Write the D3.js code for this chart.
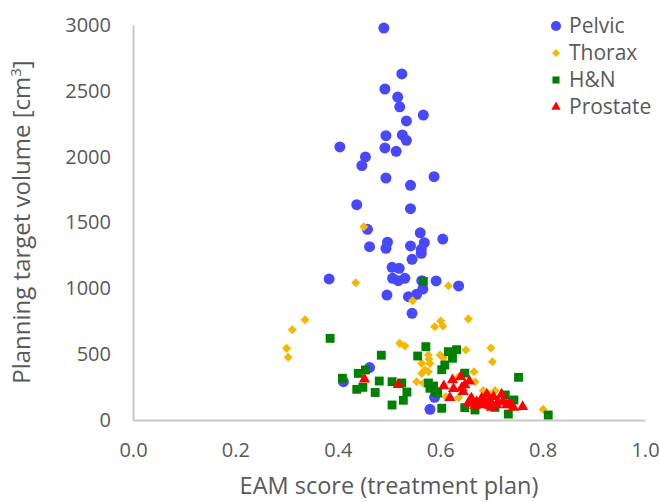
<!DOCTYPE html>
<html><head><meta charset="utf-8">
<script src="https://cdn.jsdelivr.net/npm/d3@7"></script>
<style>body{margin:0;background:#fff;} text{font-family:"Open Sans",sans-serif;}</style>
</head><body>
<svg id="c" width="660" height="502"></svg>
<script>
const pelvic = [[0.490,2977],[0.525,2628],[0.492,2514],[0.517,2453],[0.521,2379],[0.567,2316],[0.534,2271],[0.494,2159],[0.526,2165],[0.534,2124],[0.404,2074],[0.492,2066],[0.514,2041],[0.454,1998],[0.447,1932],[0.494,1838],[0.588,1848],[0.542,1782],[0.437,1635],[0.542,1605],[0.458,1448],[0.561,1422],[0.605,1374],[0.569,1347],[0.497,1350],[0.462,1316],[0.494,1304],[0.542,1322],[0.563,1296],[0.563,1266],[0.545,1220],[0.506,1160],[0.520,1152],[0.383,1071],[0.507,1076],[0.518,1058],[0.531,1076],[0.564,1058],[0.592,1056],[0.636,1018],[0.566,995],[0.496,949],[0.538,937],[0.554,955],[0.545,810],[0.462,398],[0.411,291],[0.589,172],[0.580,81]];
const thorax = [[0.451,1468],[0.435,1043],[0.546,905],[0.616,1020],[0.336,762],[0.311,686],[0.300,544],[0.303,476],[0.655,768],[0.589,709],[0.601,752],[0.605,714],[0.521,582],[0.531,562],[0.577,494],[0.600,494],[0.606,473],[0.650,532],[0.699,547],[0.702,443],[0.564,430],[0.580,430],[0.578,461],[0.570,380],[0.577,367],[0.564,354],[0.666,367],[0.668,291],[0.554,291],[0.567,279],[0.636,329],[0.636,170],[0.684,223],[0.707,223],[0.694,200],[0.722,185],[0.611,177],[0.801,81]];
const hn = [[0.567,1053],[0.385,620],[0.485,492],[0.556,486],[0.572,557],[0.616,519],[0.632,534],[0.624,469],[0.609,418],[0.603,382],[0.409,317],[0.440,354],[0.454,380],[0.437,233],[0.449,248],[0.481,296],[0.473,209],[0.506,291],[0.525,281],[0.535,212],[0.528,150],[0.506,114],[0.577,281],[0.580,241],[0.590,215],[0.587,258],[0.595,205],[0.648,356],[0.648,94],[0.603,89],[0.668,76],[0.727,190],[0.744,152],[0.733,45],[0.811,38],[0.753,324],[0.707,96]];
const prostate = [[0.452,309],[0.518,268],[0.607,258],[0.624,304],[0.640,329],[0.657,295],[0.626,238],[0.642,245],[0.648,266],[0.645,215],[0.619,169],[0.661,165],[0.671,139],[0.681,165],[0.691,195],[0.697,152],[0.704,177],[0.720,195],[0.723,139],[0.730,114],[0.740,114],[0.761,101],[0.655,127],[0.668,109],[0.684,114],[0.697,109],[0.710,114],[0.743,94],[0.676,125],[0.690,130],[0.713,140],[0.735,125],[0.700,95],[0.658,150]];
const xTicks = [0,0.2,0.4,0.6,0.8,1.0];
const yTicks = [0,500,1000,1500,2000,2500,3000];
const seriesNames = ["Pelvic","Thorax","H&N","Prostate"];
const seriesColors = ["#4848FF","#F5B700","#008000","#FF0000"];

const svg = d3.select("#c");
const x = d3.scaleLinear().domain([0,1]).range([133,645]);
const y = d3.scaleLinear().domain([0,3000]).range([420,25]);

// axes
const xAxis = svg.append("g").attr("transform","translate(0,420)")
  .call(d3.axisBottom(x).tickValues(xTicks).tickFormat(d3.format(".1f")).tickSize(0).tickPadding(23));
const yAxis = svg.append("g").attr("transform","translate(133,0)")
  .call(d3.axisLeft(y).tickValues(yTicks).tickFormat(d3.format("d")).tickSize(0).tickPadding(22));
[xAxis,yAxis].forEach(a=>{
  a.select(".domain").attr("stroke","#C8C8C8").attr("stroke-width",2);
  a.selectAll("text").attr("fill","#595959").style("font-size","20px").style("font-family","Open Sans");
});

const symbols = [d3.symbolCircle,d3.symbolDiamond2,d3.symbolSquare2,d3.symbolTriangle2];
const sizes = [95, 52, 100, 90];
const data = [pelvic,thorax,hn,prostate];
data.forEach((arr,i)=>{
  const sym = d3.symbol().type(symbols[i]).size(sizes[i]);
  svg.append("g").selectAll("path").data(arr).join("path")
    .attr("d",sym)
    .attr("transform",d=>`translate(${x(d[0])},${y(d[1])})`)
    .attr("fill",seriesColors[i]);
});

// axis titles
svg.append("text").attr("x",x(0.5)).attr("y",494).attr("text-anchor","middle")
  .attr("fill","#595959").style("font-size","23.5px").text("EAM score (treatment plan)");
const yt = svg.append("text").attr("transform","translate(30,222) rotate(-90)").attr("text-anchor","middle")
  .attr("fill","#595959").style("font-size","24px");
yt.append("tspan").text("Planning target volume [cm");
yt.append("tspan").attr("dy",-9).style("font-size","15px").text("3");
yt.append("tspan").attr("dy",9).text("]");

// legend
const lg = svg.append("g");
const lsizes = [80, 40, 64, 64];
seriesNames.forEach((n,i)=>{
  const cy = 26 + i*27;
  lg.append("path").attr("d",d3.symbol().type(symbols[i]).size(lsizes[i]))
    .attr("transform",`translate(556,${cy})`).attr("fill",seriesColors[i]);
  lg.append("text").attr("x",569).attr("y",cy+7).attr("fill","#595959").style("font-size","21px").text(n);
});
</script>
</body></html>
